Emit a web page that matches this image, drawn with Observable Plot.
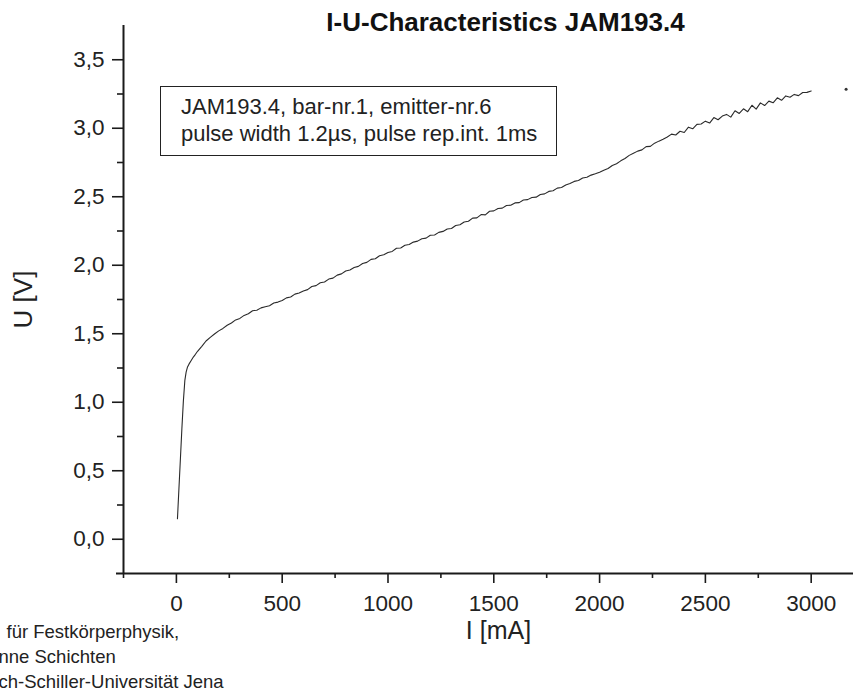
<!DOCTYPE html>
<html>
<head>
<meta charset="utf-8">
<script src="https://cdn.jsdelivr.net/npm/d3@7"></script>
<script src="https://cdn.jsdelivr.net/npm/@observablehq/plot@0.6"></script>
<style>
  html, body { margin: 0; padding: 0; background: white; }
  #wrap { position: relative; width: 854px; height: 692px; overflow: hidden; }
  #note {
    position: absolute; left: 160px; top: 86px; width: 397px; height: 70px;
    border: 1.5px solid #222; box-sizing: border-box;
    font-family: Arial, "Liberation Sans", sans-serif; font-size: 22px; color: #222;
    padding: 6px 0 0 20px; line-height: 27px; white-space: nowrap;
  }
</style>
</head>
<body>
<div id="wrap"><div id="note"></div></div>
<script>
// ---- data ----
const titleText = "I-U-Characteristics JAM193.4";
const xLabel = "I [mA]";
const yLabel = "U [V]";
const noteLines = ["JAM193.4, bar-nr.1, emitter-nr.6", "pulse width 1.2µs, pulse rep.int. 1ms"];
const captionLines = ["für Festkörperphysik,", "nne Schichten", "ch-Schiller-Universität Jena"];

const xDomain = [-250, 3200];
const yDomain = [-0.25, 3.75];
const xTicks = [0, 500, 1000, 1500, 2000, 2500, 3000];
const xTickLabels = ["0", "500", "1000", "1500", "2000", "2500", "3000"];
const xMinorTicks = [-250, 250, 750, 1250, 1750, 2250, 2750];
const yTicks = [0, 0.5, 1.0, 1.5, 2.0, 2.5, 3.0, 3.5];
const yTickLabels = ["0,0", "0,5", "1,0", "1,5", "2,0", "2,5", "3,0", "3,5"];
const yMinorTicks = [0.25, 0.75, 1.25, 1.75, 2.25, 2.75, 3.25];

// current I [mA]
const current = [
  5, 12, 19, 26, 33, 40, 46, 52, 60, 70, 80, 90,
  100, 120, 140, 160, 180, 200, 220, 240, 260, 280,
  300, 320, 340, 360, 380, 400, 420, 440, 460, 480,
  500, 520, 540, 560, 580, 600, 620, 640, 660, 680,
  700, 720, 740, 760, 780, 800, 820, 840, 860, 880,
  900, 920, 940, 960, 980, 1000, 1020, 1040, 1060, 1080,
  1100, 1120, 1140, 1160, 1180, 1200, 1220, 1240, 1260, 1280,
  1300, 1320, 1340, 1360, 1380, 1400, 1420, 1440, 1460, 1480,
  1500, 1520, 1540, 1560, 1580, 1600, 1620, 1640, 1660, 1680,
  1700, 1720, 1740, 1760, 1780, 1800, 1820, 1840, 1860, 1880,
  1900, 1920, 1940, 1960, 1980, 2000, 2020, 2040, 2060, 2080,
  2100, 2120, 2140, 2160, 2180, 2200, 2220, 2240, 2260, 2280,
  2300, 2320, 2340, 2360, 2380, 2400, 2420, 2440, 2460, 2480,
  2500, 2520, 2540, 2560, 2580, 2600, 2620, 2640, 2660, 2680,
  2700, 2720, 2740, 2760, 2780, 2800, 2820, 2840, 2860, 2880,
  2900, 2920, 2940, 2960, 2980, 3000
];
// voltage U [V]
const voltage = [
  0.15, 0.37, 0.59, 0.81, 1.01, 1.16, 1.22, 1.255, 1.28, 1.305, 1.33, 1.35,
  1.372, 1.408, 1.447, 1.474, 1.498, 1.521, 1.539, 1.562, 1.578, 1.601,
  1.612, 1.634, 1.646, 1.668, 1.672, 1.689, 1.697, 1.704, 1.724, 1.731,
  1.743, 1.762, 1.768, 1.789, 1.797, 1.812, 1.822, 1.845, 1.851, 1.872,
  1.878, 1.899, 1.906, 1.928, 1.937, 1.958, 1.966, 1.984, 1.992, 2.013,
  2.021, 2.043, 2.047, 2.069, 2.076, 2.093, 2.101, 2.124, 2.126, 2.146,
  2.151, 2.169, 2.176, 2.194, 2.198, 2.219, 2.221, 2.24, 2.247, 2.265,
  2.268, 2.29, 2.296, 2.316, 2.321, 2.344, 2.346, 2.37, 2.368, 2.394,
  2.397, 2.414, 2.417, 2.436, 2.438, 2.455, 2.457, 2.476, 2.479, 2.494,
  2.497, 2.516, 2.521, 2.539, 2.544, 2.563, 2.568, 2.586, 2.597, 2.612,
  2.618, 2.637, 2.642, 2.658, 2.668, 2.679, 2.694, 2.706, 2.728, 2.741,
  2.762, 2.779, 2.802, 2.818, 2.833, 2.842, 2.866, 2.868, 2.891, 2.906,
  2.92, 2.936, 2.957, 2.951, 2.978, 2.969, 3.008, 2.996, 3.028, 3.031,
  3.052, 3.038, 3.078, 3.062, 3.089, 3.101, 3.081, 3.128, 3.108, 3.142,
  3.121, 3.168, 3.14, 3.185, 3.166, 3.198, 3.186, 3.222, 3.204, 3.236,
  3.226, 3.247, 3.238, 3.261, 3.262, 3.272
];
// isolated stray sample
const strayCurrent = [3165];
const strayVoltage = [3.285];

// ---- build ----
const curve = current.map((I, i) => ({I, U: voltage[i]}));
const stray = strayCurrent.map((I, i) => ({I, U: strayVoltage[i]}));
const xLabelMap = new Map(xTicks.map((t, i) => [t, xTickLabels[i]]));
const yLabelMap = new Map(yTicks.map((t, i) => [t, yTickLabels[i]]));

const font = "Arial, 'Liberation Sans', sans-serif";
const ink = "#1a1a1a";

const chart = Plot.plot({
  width: 854,
  height: 692,
  marginLeft: 123,
  marginRight: 1,
  marginTop: 25,
  marginBottom: 119,
  style: {fontFamily: font, color: ink, background: "transparent", overflow: "visible"},
  x: {domain: xDomain},
  y: {domain: yDomain},
  marks: [
    Plot.axisX({ticks: xTicks, tickSize: 10, tickPadding: 12, fontSize: 22.5, strokeWidth: 1.6,
      tickFormat: d => xLabelMap.get(d), label: null, fill: "#222"}),
    Plot.axisX({ticks: xMinorTicks, tickSize: 5, strokeWidth: 1.6, tickFormat: () => "", label: null}),
    Plot.axisY({ticks: yTicks, tickSize: 11, tickPadding: 8, fontSize: 22.5, strokeWidth: 1.6,
      tickFormat: d => yLabelMap.get(d), label: null, fill: "#222"}),
    Plot.axisY({ticks: yMinorTicks, tickSize: 6, strokeWidth: 1.6, tickFormat: () => "", label: null}),
    Plot.ruleX([xDomain[0]], {stroke: ink, strokeWidth: 2}),
    Plot.ruleY([yDomain[0]], {stroke: ink, strokeWidth: 2, insetLeft: -7}),
    Plot.line(curve, {x: "I", y: "U", stroke: "#2a2a2a", strokeWidth: 1.1}),
    Plot.dot(stray, {x: "I", y: "U", r: 1.5, fill: "#333", stroke: null}),
    Plot.text([titleText], {frameAnchor: "top", lineAnchor: "bottom", dx: 17, dy: 5,
      fontSize: 26, fontWeight: "bold", fill: "#111"}),
    Plot.text([yLabel], {frameAnchor: "left", textAnchor: "middle", lineAnchor: "middle", rotate: -90, dx: -100, dy: 0,
      fontSize: 26, fill: "#222"}),
    Plot.text([xLabel], {frameAnchor: "bottom", textAnchor: "middle", lineAnchor: "middle", dx: 10, dy: 57,
      fontSize: 25, fill: "#222"}),
    Plot.text([captionLines[0]], {frameAnchor: "bottom-left", textAnchor: "start", lineAnchor: "middle", dx: -117, dy: 59, fontSize: 18.5, fill: "#222"}),
    Plot.text([captionLines[1]], {frameAnchor: "bottom-left", textAnchor: "start", lineAnchor: "middle", dx: -125, dy: 84, fontSize: 18.5, fill: "#222"}),
    Plot.text([captionLines[2]], {frameAnchor: "bottom-left", textAnchor: "start", lineAnchor: "middle", dx: -125, dy: 109, fontSize: 18.5, fill: "#222"})
  ]
});

const wrap = document.getElementById("wrap");
wrap.insertBefore(chart, wrap.firstChild);
const note = document.getElementById("note");
note.innerHTML = noteLines.map(s => `<div>${s}</div>`).join("");
</script>
</body>
</html>
